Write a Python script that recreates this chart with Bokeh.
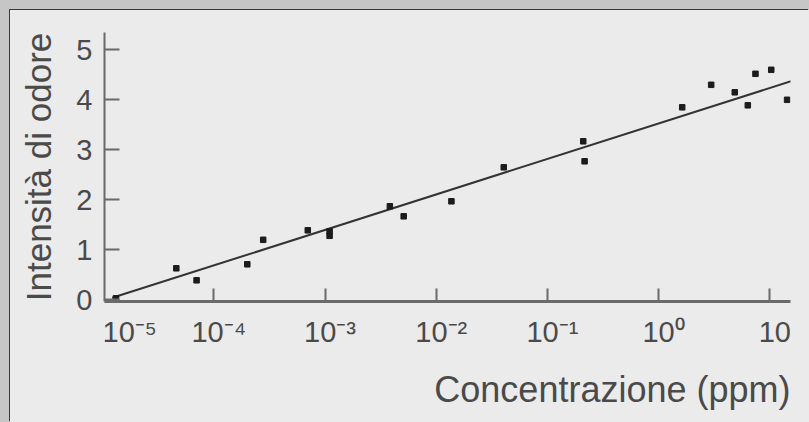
from bokeh.plotting import figure
from bokeh.layouts import column
from bokeh.models import Range1d, FixedTicker
from bokeh.core.properties import value
from bokeh.embed import file_html
from bokeh.resources import INLINE

# ---- data ----
conc = [1.32e-5, 4.6e-5, 7.0e-5, 2.0e-4, 2.78e-4, 7.0e-4, 1.1e-3, 1.1e-3,
        3.83e-3, 5.1e-3, 1.37e-2, 4.05e-2, 0.21, 0.216, 1.63, 2.97, 4.84,
        6.34, 7.43, 10.3, 14.3]
intensity = [0.03, 0.63, 0.39, 0.71, 1.20, 1.39, 1.37, 1.28, 1.87, 1.67,
             1.97, 2.65, 3.17, 2.77, 3.85, 4.30, 4.15, 3.89, 4.52, 4.60, 4.00]
fit_conc = [1.22e-5, 15.5]
fit_intensity = [0.04, 4.37]
x_ticks = [1e-5, 1e-4, 1e-3, 1e-2, 1e-1, 1e0, 1e1]
x_tick_labels = ["10\u207b\u2075", "10\u207b\u2074", "10\u207b\u00b3", "10\u207b\u00b2",
                 "10\u207b\u00b9", "10\u2070", "10"]
y_ticks = [0, 1, 2, 3, 4, 5]
x_title = "Concentrazione (ppm)"
y_title = "Intensità di odore"

# ---- layout constants ----
LOG_MIN, LOG_MAX = -4.983, 1.186          # x extent of the axis (decades)
YMIN, YMAX = -0.034, 5.346
OFF = 10                                   # panel offset inside the page
W = 809 - OFF
H_MAIN, H_LAB = 307, 105
ML, MR, MT, MB = 94, 19, 22, 16            # main frame borders

FONT = "Liberation Sans"
TXT = "#4a4a4a"
AX = "#6a6a6a"
BG = "#ebebeb"

p = figure(width=W, height=H_MAIN, x_axis_type="log", title=None,
           x_range=Range1d(10 ** LOG_MIN, 10 ** LOG_MAX),
           y_range=Range1d(YMIN, YMAX),
           output_backend="svg", toolbar_location=None,
           min_border_left=ML, min_border_right=MR,
           min_border_top=MT, min_border_bottom=MB)
p.background_fill_color = BG
p.border_fill_color = BG
p.outline_line_color = None
p.grid.visible = False

# fit line and points
p.line(fit_conc, fit_intensity, line_color="#333333", line_width=2)
p.scatter(conc, intensity, marker="square", size=5.5,
          fill_color="#1c1c1c", line_color="#1c1c1c")

# y axis
ya = p.yaxis[0]
ya.ticker = FixedTicker(ticks=y_ticks)
ya.major_tick_in = 15
ya.major_tick_out = 0
ya.minor_tick_line_color = None
ya.axis_line_width = 2
ya.axis_line_color = AX
ya.major_tick_line_color = AX
ya.major_tick_line_width = 2
ya.major_label_text_font = FONT
ya.major_label_text_font_size = "29px"
ya.major_label_text_color = TXT
ya.major_label_standoff = 12
ya.axis_label = y_title
ya.axis_label_text_font = FONT
ya.axis_label_text_font_size = "35px"
ya.axis_label_text_font_style = "normal"
ya.axis_label_text_color = TXT
ya.axis_label_standoff = 15

# x axis (labels drawn in the strip below)
xa = p.xaxis[0]
xa.ticker = FixedTicker(ticks=x_ticks)
xa.major_tick_in = 13
xa.major_tick_out = 0
xa.minor_tick_line_color = None
xa.axis_line_width = 3
xa.axis_line_color = AX
xa.major_tick_line_color = AX
xa.major_tick_line_width = 2
xa.major_label_text_font_size = "2px"
xa.major_label_text_alpha = 0
xa.major_label_standoff = 0

# ---- label strip: same frame width and log scale ----
p2 = figure(width=W, height=H_LAB, x_axis_type="log", title=None,
            x_axis_location=None, y_axis_location=None,
            x_range=p.x_range, y_range=Range1d(H_LAB, 0),
            output_backend="svg", toolbar_location=None,
            min_border_left=ML, min_border_right=MR,
            min_border_top=0, min_border_bottom=0)
p2.grid.visible = False
p2.outline_line_color = None
p2.background_fill_color = BG
p2.border_fill_color = BG

TICK_BASE = 14      # baseline of tick labels in the strip
TITLE_BASE = 72     # baseline of the x title in the strip
p2.text(x=x_ticks[1:], y=[TICK_BASE] * 6, text=x_tick_labels[1:],
        text_align="center", text_baseline="alphabetic", x_offset=5,
        text_font=value(FONT), text_font_size="29px", text_color=TXT)
p2.text(x=x_ticks[:1], y=[TICK_BASE], text=x_tick_labels[:1],
        text_align="left", text_baseline="alphabetic", x_offset=0,
        text_font=value(FONT), text_font_size="29px", text_color=TXT)
p2.text(x=[10 ** LOG_MAX], y=[TITLE_BASE], text=[x_title],
        text_align="right", text_baseline="alphabetic", x_offset=0,
        text_font=value(FONT), text_font_size="36px", text_color=TXT)

layout = column(p, p2, spacing=0)
layout.styles = {
    "margin-left": f"{OFF}px", "margin-top": f"{OFF}px",
    "background-color": BG,
    "box-shadow": "-1px -1px 0 0 #3a3a3a, 0 0 0 10px #c6c6c6",
}

open("out.html", "w").write(file_html(layout, INLINE))
